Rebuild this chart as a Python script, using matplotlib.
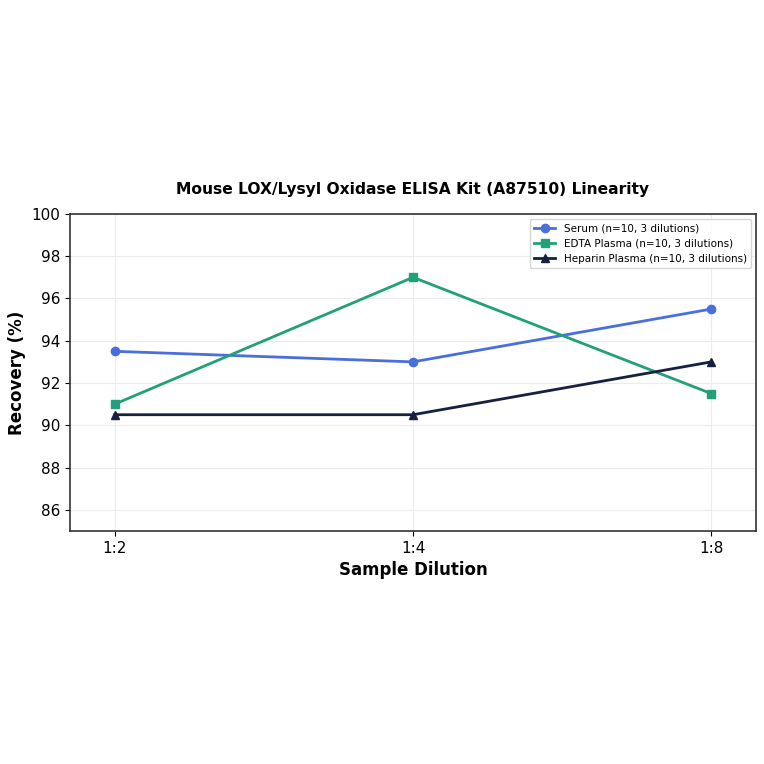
import matplotlib
matplotlib.use('Agg')
import matplotlib.pyplot as plt

dilutions = ['1:2', '1:4', '1:8']
serum = [93.5, 93.0, 95.5]
edta = [91.0, 97.0, 91.5]
heparin = [90.5, 90.5, 93.0]

fig = plt.figure(figsize=(7.64, 7.64), dpi=100)
ax = fig.add_axes([0.0916, 0.305, 0.898, 0.415])

x = list(range(len(dilutions)))
ax.plot(x, serum, color='#4a6fdc', marker='o', linewidth=2, markersize=6,
        label='Serum (n=10, 3 dilutions)')
ax.plot(x, edta, color='#22a07a', marker='s', linewidth=2, markersize=6,
        label='EDTA Plasma (n=10, 3 dilutions)')
ax.plot(x, heparin, color='#16203f', marker='^', linewidth=2, markersize=6,
        label='Heparin Plasma (n=10, 3 dilutions)')

ax.set_xticks(x)
ax.set_xticklabels(dilutions)
ax.set_xlim(-0.15, 2.15)
ax.set_ylim(85, 100)
ax.set_yticks(range(86, 101, 2))
ax.tick_params(labelsize=11)
ax.grid(True, color='#ececec', linewidth=0.8)
for s in ax.spines.values():
    s.set_color('#333333')
    s.set_linewidth(1.2)
ax.set_xlabel('Sample Dilution', fontsize=12, fontweight='bold')
ax.set_ylabel('Recovery (%)', fontsize=12, fontweight='bold')
ax.set_title('Mouse LOX/Lysyl Oxidase ELISA Kit (A87510) Linearity',
             fontsize=11.2, fontweight='bold', pad=14)
ax.legend(loc='upper right', fontsize=7.5)

fig.savefig('out.png', dpi=100)
